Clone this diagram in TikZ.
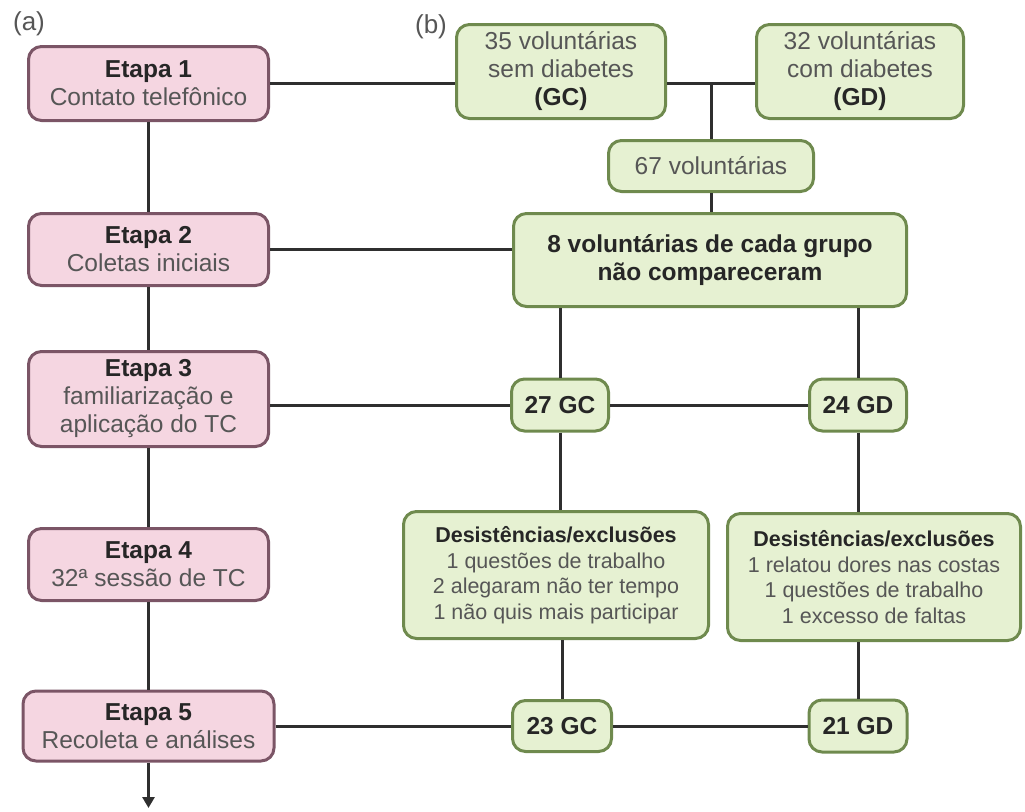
\documentclass[tikz,border=0pt]{standalone}
\usepackage{fontspec}
\setmainfont{Liberation Sans}
\usepackage{tikz}
\usetikzlibrary{calc}
\usetikzlibrary{arrows.meta}

\definecolor{etapafill}{HTML}{F5D6E1}
\definecolor{etapaline}{HTML}{7B5566}
\definecolor{grupofill}{HTML}{E6F1D2}
\definecolor{grupoline}{HTML}{6F8A4E}
\definecolor{linha}{HTML}{2F2F2F}
\definecolor{textoforte}{HTML}{262626}
\definecolor{textofraco}{HTML}{565656}

\tikzset{
    etapa/.style={draw=etapaline, fill=etapafill, line width=3pt, rounded corners=13pt,
        align=center, text=textofraco, inner sep=0pt},
    grupo/.style={draw=grupoline, fill=grupofill, line width=3pt, rounded corners=13pt,
        align=center, text=textofraco, inner sep=0pt},
    liga/.style={draw=linha, line width=3pt},
    motivo/.style={grupo, font=\fontsize{21.5}{25.5}\selectfont},
}
\newcommand{\tit}[1]{\textbf{\textcolor{textoforte}{#1}}}

\begin{document}
\begin{tikzpicture}[x=1pt, y=-1pt, font=\fontsize{24.5}{28}\selectfont]

    \useasboundingbox (0,0) rectangle (1025,811);

    \node[text=textofraco, font=\fontsize{26}{28}\selectfont] (la) at (29,24) {(a)};
    \node[text=textofraco, font=\fontsize{26}{28}\selectfont] (lb) at (431,27) {(b)};

    \node[etapa, minimum width=240pt, minimum height=74pt] (E1) at (148.5,83.5) {\tit{Etapa 1}\\Contato telefônico};
    \node[etapa, minimum width=240pt, minimum height=72pt] (E2) at (148.5,249.5) {\tit{Etapa 2}\\Coletas iniciais};
    \node[etapa, minimum width=240pt, minimum height=95pt] (E3) at (148.5,399) {\tit{Etapa 3}\\familiarização e\\aplicação do TC};
    \node[etapa, minimum width=240pt, minimum height=72pt] (E4) at (148.5,564.5) {\tit{Etapa 4}\\32ª sessão de TC};
    \node[etapa, minimum width=251pt, minimum height=70pt] (E5) at (148.5,726) {\tit{Etapa 5}\\Recoleta e análises};

    \coordinate (fim) at (148.5,808);

    \node[grupo, minimum width=209pt, minimum height=94pt] (GC35) at (561,71.5) {35 voluntárias\\sem diabetes\\\tit{(GC)}};
    \node[grupo, minimum width=207pt, minimum height=94pt] (GD32) at (860,71.5) {32 voluntárias\\com diabetes\\\tit{(GD)}};
    \node[grupo, minimum width=205pt, minimum height=51pt] (V67) at (711,166) {67 voluntárias};
    \node[grupo, minimum width=393pt, minimum height=93pt] (NC) at (710,260) {\tit{8 voluntárias de cada grupo}\\\tit{não compareceram}};

    \node[grupo, minimum width=97pt, minimum height=52pt] (GC27) at (560,405) {\tit{27 GC}};
    \node[grupo, minimum width=97pt, minimum height=52pt] (GD24) at (858,405) {\tit{24 GD}};

    \node[motivo, minimum width=305pt, minimum height=127pt] (DGC) at (556,575) {\tit{Desistências/exclusões}\\1 questões de trabalho\\2 alegaram não ter tempo\\1 não quis mais participar};
    \node[motivo, minimum width=293pt, minimum height=127pt] (DGD) at (874,577) {\tit{Desistências/exclusões}\\1 relatou dores nas costas\\1 questões de trabalho\\1 excesso de faltas};

    \node[grupo, minimum width=99pt, minimum height=51pt] (GC23) at (562,726) {\tit{23 GC}};
    \node[grupo, minimum width=98pt, minimum height=52pt] (GD21) at (858,726) {\tit{21 GD}};

    \draw[liga] (E1.south) -- (E2.north);
    \draw[liga] (E2.south) -- (E3.north);
    \draw[liga] (E3.south) -- (E4.north);
    \draw[liga] (E4.south) -- (E5.north);
    \draw[liga, -{Triangle[width=12pt, length=11pt]}] (E5.south) -- (fim);

    \coordinate (jun) at (V67.north |- E1.east);

    \draw[liga] (E1.east) -- (E1.east -| GC35.west);
    \draw[liga] (GC35.east |- jun) -- (GD32.west |- jun);
    \draw[liga] (jun) -- (V67.north);
    \draw[liga] (V67.south) -- (V67.south |- NC.north);
    \draw[liga] (E2.east) -- (E2.east -| NC.west);

    \draw[liga] (NC.south -| GC27.north) -- (GC27.north);
    \draw[liga] (NC.south -| GD24.north) -- (GD24.north);
    \draw[liga] (GC27.west -| E3.east) -- (GC27.west);
    \draw[liga] (GC27.east) -- (GD24.west);

    \draw[liga] (GC27.south) -- (GC27.south |- DGC.north);
    \draw[liga] (GD24.south) -- (GD24.south |- DGD.north);
    \draw[liga] (DGC.south -| GC23.north) -- (GC23.north);
    \draw[liga] (DGD.south -| GD21.north) -- (GD21.north);

    \draw[liga] (E5.east) -- (GC23.west);
    \draw[liga] (GC23.east) -- (GD21.west);

\end{tikzpicture}
\end{document}
